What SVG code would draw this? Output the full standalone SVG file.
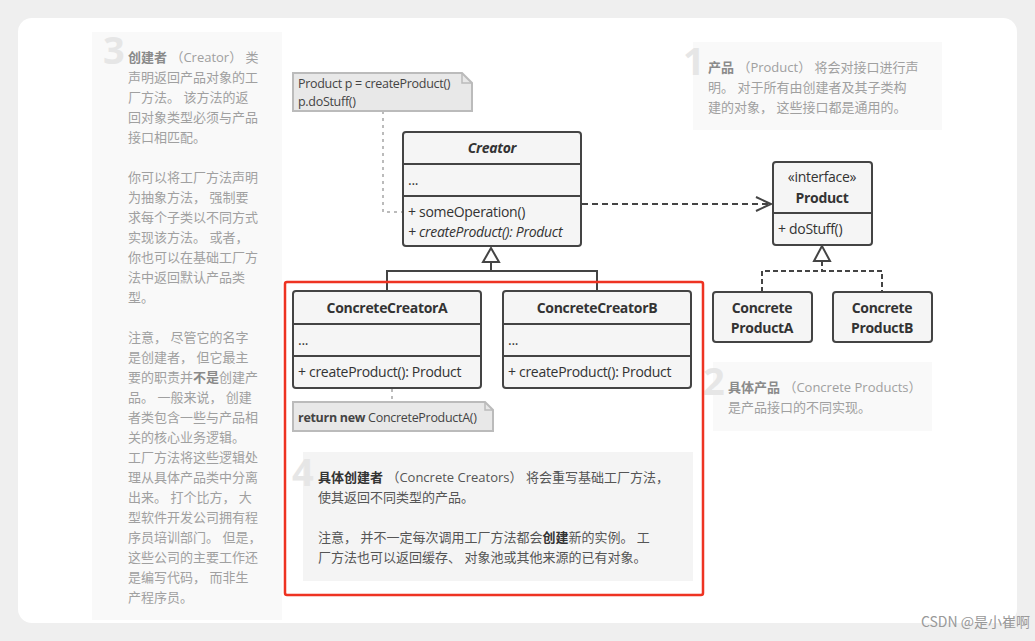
<svg xmlns="http://www.w3.org/2000/svg" width="1035" height="641" viewBox="0 0 1035 641">
<style>
.t{font-family:"Open Sans","Noto Sans CJK SC",sans-serif;font-size:13px;fill:#a0a0a0}
.tb{font-weight:bold;fill:#8a8a8a}
.big{font-family:"Open Sans",sans-serif;font-size:38px;font-weight:bold;fill:#e6e6e6}
.u{font-family:"Open Sans","Noto Sans CJK SC",sans-serif;font-size:14px;fill:#333;letter-spacing:-0.3px}
.ub{font-weight:bold}
.box{fill:#f5f5f5;stroke:#444;stroke-width:2}
.ln{stroke:#444;stroke-width:2;fill:none}
.panel{fill:#f9f9f9}
.note{fill:#e8e8e8;stroke:#bbb;stroke-width:2}
.dk{font-family:"Open Sans","Noto Sans CJK SC",sans-serif;font-size:12.5px;fill:#444;letter-spacing:-0.3px}
</style>
<rect width="1035" height="641" fill="#efefef"/>
<rect x="18" y="18" width="999" height="605" rx="14" fill="#fff"/>
<g id="note3">
<rect class="panel" x="92" y="32" width="190" height="588"/>
<text class="big" x="103" y="64">3</text>
<text class="t"><tspan x="128" y="62"><tspan class="tb">创建者</tspan> （Creator） 类</tspan><tspan x="128" y="82">声明返回产品对象的工</tspan><tspan x="128" y="102">厂方法。 该方法的返</tspan><tspan x="128" y="122">回对象类型必须与产品</tspan><tspan x="128" y="142">接口相匹配。</tspan>
<tspan x="128" y="182">你可以将工厂方法声明</tspan><tspan x="128" y="202">为抽象方法， 强制要</tspan><tspan x="128" y="222">求每个子类以不同方式</tspan><tspan x="128" y="242">实现该方法。 或者，</tspan><tspan x="128" y="262">你也可以在基础工厂方</tspan><tspan x="128" y="282">法中返回默认产品类</tspan><tspan x="128" y="302">型。</tspan>
<tspan x="128" y="342">注意， 尽管它的名字</tspan><tspan x="128" y="362">是创建者， 但它最主</tspan><tspan x="128" y="382">要的职责并<tspan class="tb">不是</tspan>创建产</tspan><tspan x="128" y="402">品。 一般来说， 创建</tspan><tspan x="128" y="422">者类包含一些与产品相</tspan><tspan x="128" y="442">关的核心业务逻辑。</tspan><tspan x="128" y="462">工厂方法将这些逻辑处</tspan><tspan x="128" y="482">理从具体产品类中分离</tspan><tspan x="128" y="502">出来。 打个比方， 大</tspan><tspan x="128" y="522">型软件开发公司拥有程</tspan><tspan x="128" y="542">序员培训部门。 但是，</tspan><tspan x="128" y="562">这些公司的主要工作还</tspan><tspan x="128" y="582">是编写代码， 而非生</tspan><tspan x="128" y="602">产程序员。</tspan></text>
</g>
<g id="note1">
<rect class="panel" x="693" y="42" width="249" height="88"/>
<text class="big" x="683" y="75">1</text>
<text class="t"><tspan x="708" y="72"><tspan class="tb">产品</tspan> （Product） 将会对接口进行声</tspan><tspan x="708" y="92">明。 对于所有由创建者及其子类构</tspan><tspan x="708" y="112">建的对象， 这些接口都是通用的。</tspan></text>
</g>
<g id="note2">
<rect class="panel" x="713" y="362" width="219" height="69"/>
<text class="big" x="703" y="395">2</text>
<text class="t"><tspan x="728" y="392"><tspan class="tb">具体产品</tspan> （Concrete Products）</tspan><tspan x="728" y="412">是产品接口的不同实现。</tspan></text>
</g>
<g id="connectors">
<polyline points="383,111 383,212 403,212" fill="none" stroke="#bbb" stroke-width="2" stroke-dasharray="3,4"/>
<line x1="392" y1="389" x2="392" y2="402" stroke="#bbb" stroke-width="2" stroke-dasharray="3,4"/>
<line x1="582" y1="204" x2="770" y2="204" class="ln" stroke-dasharray="6,4"/>
<polyline points="756,197 771,204 756,211" class="ln"/>
<polygon points="491,248 483,262 499,262" fill="#fff" stroke="#444" stroke-width="2"/>
<polyline points="491,262 491,271" class="ln"/>
<polyline points="387,291 387,271 597,271 597,291" class="ln"/>
<polygon points="822,246 814,261 830,261" fill="#fff" stroke="#444" stroke-width="2"/>
<line x1="822" y1="261" x2="822" y2="271" class="ln" stroke-dasharray="5,3"/>
<polyline points="762,292 762,271 882,271 882,292" class="ln" stroke-dasharray="5,3"/>
</g>
<g id="noteCode">
<path d="M293,73 H462 L472,83 V111 H293 Z" class="note"/>
<path d="M462,73 V83 H472" fill="none" stroke="#bbb" stroke-width="1.5"/>
<text class="dk" x="298" y="88">Product p = createProduct()</text>
<text class="dk" x="298" y="106">p.doStuff()</text>
</g>
<g id="creator">
<rect class="box" x="403" y="132" width="178" height="114" rx="3"/>
<line class="ln" x1="403" y1="164" x2="581" y2="164"/><line class="ln" x1="403" y1="196" x2="581" y2="196"/>
<text class="u ub" x="492" y="153" text-anchor="middle" font-style="italic">Creator</text>
<text class="u" x="408" y="185">...</text>
<text class="u" x="408" y="217">+ someOperation()</text>
<text class="u" x="408" y="237" font-style="italic">+ createProduct(): Product</text>
</g>
<g id="product">
<rect class="box" x="773" y="162" width="99" height="83" rx="3"/>
<line class="ln" x1="773" y1="213" x2="872" y2="213"/>
<text class="u" x="822" y="182" text-anchor="middle">«interface»</text>
<text class="u ub" x="822" y="203" text-anchor="middle">Product</text>
<text class="u" x="778" y="234">+ doStuff()</text>
</g>
<g id="cca">
<rect class="box" x="293" y="291" width="188" height="97" rx="3"/>
<line class="ln" x1="293" y1="324" x2="481" y2="324"/><line class="ln" x1="293" y1="356" x2="481" y2="356"/>
<text class="u ub" x="387" y="313" text-anchor="middle">ConcreteCreatorA</text>
<text class="u" x="298" y="345">...</text>
<text class="u" x="298" y="377">+ createProduct(): Product</text>
</g>
<g id="ccb">
<rect class="box" x="503" y="291" width="188" height="97" rx="3"/>
<line class="ln" x1="503" y1="324" x2="691" y2="324"/><line class="ln" x1="503" y1="356" x2="691" y2="356"/>
<text class="u ub" x="597" y="313" text-anchor="middle">ConcreteCreatorB</text>
<text class="u" x="508" y="345">...</text>
<text class="u" x="508" y="377">+ createProduct(): Product</text>
</g>
<g id="noteReturn">
<path d="M293,402 H485 L493,410 V431 H293 Z" class="note"/>
<path d="M485,402 V410 H493" fill="none" stroke="#bbb" stroke-width="1.5"/>
<text class="dk" x="298" y="422"><tspan font-weight="bold">return new</tspan> ConcreteProductA()</text>
</g>
<g id="cpa">
<rect class="box" x="713" y="292" width="99" height="50" rx="3"/>
<text class="u ub" x="762" y="313" text-anchor="middle">Concrete</text>
<text class="u ub" x="762" y="333" text-anchor="middle">ProductA</text>
</g>
<g id="cpb">
<rect class="box" x="833" y="292" width="99" height="50" rx="3"/>
<text class="u ub" x="882" y="313" text-anchor="middle">Concrete</text>
<text class="u ub" x="882" y="333" text-anchor="middle">ProductB</text>
</g>
<g id="note4">
<rect x="303" y="452" width="390" height="129" fill="#f4f4f4"/>
<text class="big" x="292" y="486" fill="#ddd">4</text>
<text class="t" style="fill:#555"><tspan x="318" y="482"><tspan font-weight="bold" fill="#333">具体创建者</tspan> （Concrete Creators） 将会重写基础工厂方法，</tspan><tspan x="318" y="502">使其返回不同类型的产品。</tspan><tspan x="318" y="542">注意， 并不一定每次调用工厂方法都会<tspan font-weight="bold" fill="#333">创建</tspan>新的实例。 工</tspan><tspan x="318" y="562">厂方法也可以返回缓存、 对象池或其他来源的已有对象。</tspan></text>
</g>
<rect x="285" y="282" width="418" height="313" rx="2" fill="none" stroke="#ee3322" stroke-width="2.5"/>
<text x="1030" y="627" text-anchor="end" font-family="'Noto Sans CJK SC',sans-serif" font-size="14" fill="#999">CSDN @是小崔啊</text>
</svg>
